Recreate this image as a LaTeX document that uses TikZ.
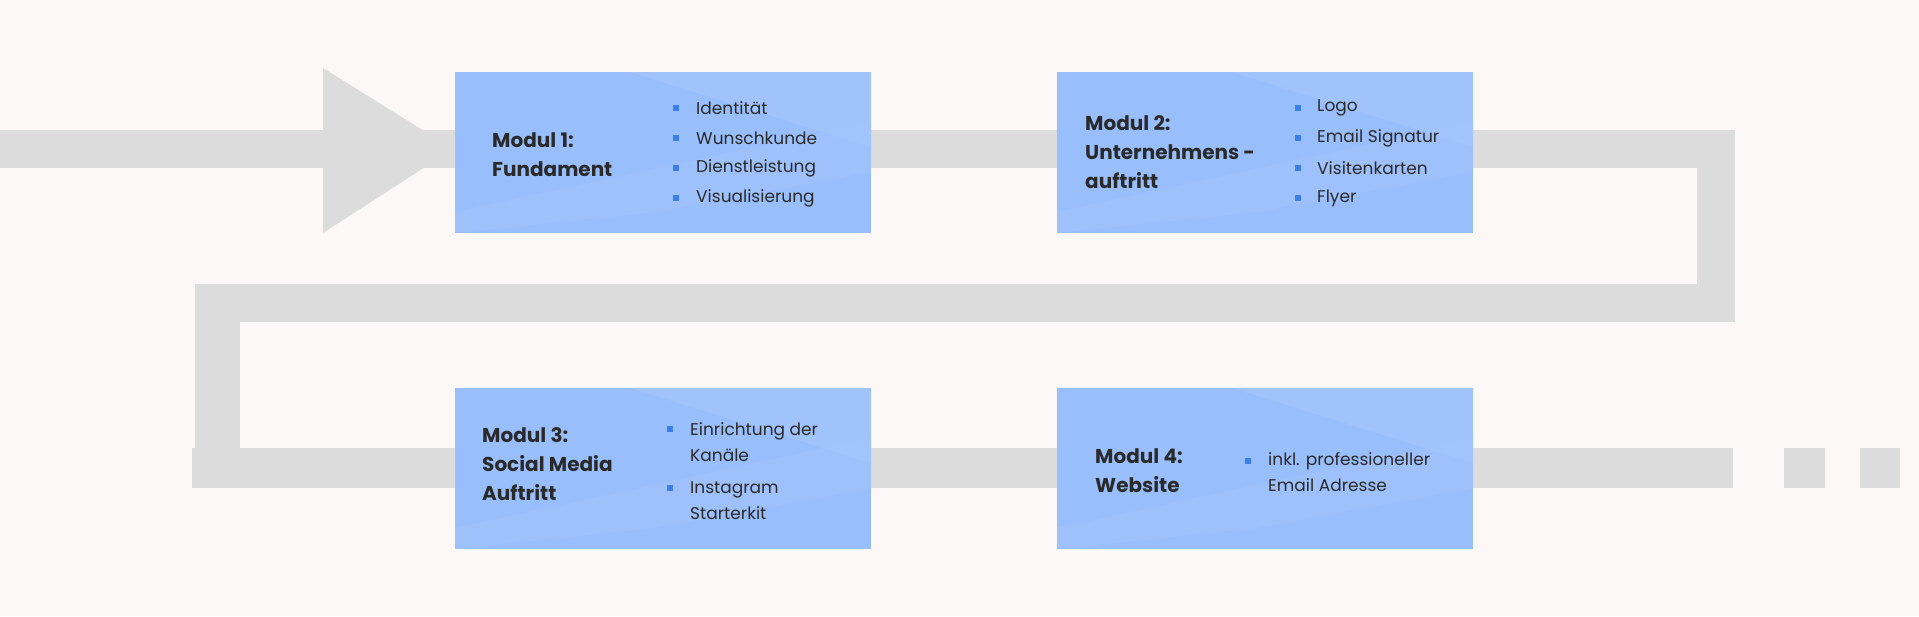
\documentclass[tikz,border=0pt]{standalone}
\usepackage{fontspec}
\setmainfont{Poppins}
\definecolor{bg}{HTML}{FBF8F7}
\definecolor{band}{HTML}{DCDCDC}
\definecolor{boxc}{HTML}{99BEFC}
\definecolor{boxl}{HTML}{A6C7FD}
\definecolor{bul}{HTML}{3D7FE8}
\definecolor{txt}{HTML}{2A2A2A}
\tikzset{
  band/.style={fill=band,draw=none},
  modbox/.style={fill=boxc,draw=none},
  title/.style={anchor=west,align=left,font=\fontsize{20}{29}\selectfont\bfseries,text=txt,inner sep=0},
  item/.style={anchor=west,align=left,font=\fontsize{17}{26}\selectfont,text=txt,inner sep=0},
  bsq/.style={fill=bul,draw=none,minimum size=6pt,inner sep=0}
}
\begin{document}
\begin{tikzpicture}[x=1pt,y=-1pt]
\fill[bg] (0,0) rectangle (1919,616);
\useasboundingbox (0,0) rectangle (1919,616);
% flow band
\fill[band] (0,130) rectangle (1735,168);
\fill[band] (323,68) -- (453,149) -- (323,233) -- cycle;
\fill[band] (1697,130) rectangle (1735,322);
\fill[band] (195,284) rectangle (1735,322);
\fill[band] (195,284) rectangle (240,488);
\fill[band] (192,448) rectangle (1733,488);
\fill[band] (1784,448) rectangle (1825,488);
\fill[band] (1860,448) rectangle (1900,488);
% boxes
\foreach \x/\y/\n in {455/72/a,1057/72/b,455/388/c,1057/388/d}{
  \fill[modbox] (\x,\y) rectangle ++(416,161);
  \fill[boxl,opacity=0.6] (\x+175,\y) -- (\x+416,\y) -- (\x+416,\y+75) -- cycle;
  \fill[boxl,opacity=0.4] (\x,\y+140) -- (\x+416,\y+50) -- (\x+416,\y+100) -- (\x+200,\y+140) -- (\x,\y+161) -- cycle;
  \coordinate (\n) at (\x,\y);
}
% box 1
\node[title] (t1) at (492,155) {Modul 1:\\Fundament};
\foreach \t/\yy in {Identität/108,Wunschkunde/138,Dienstleistung/168,Visualisierung/198}{
  \node[bsq] at (676,\yy) {};
  \node[item] at (696,\yy) {\t};
}
% box 2
\node[title] (t2) at (1085,152) {Modul 2:\\Unternehmens -\\auftritt};
\foreach \t/\yy in {Logo/108,Email Signatur/138,Visitenkarten/168,Flyer/198}{
  \node[bsq] at (1298,\yy) {};
  \node[item] at (1317,\yy) {\t};
}
% box 3
\node[title] (t3) at (482,464) {Modul 3:\\Social Media\\Auftritt};
\node[bsq] at (670,429) {};
\node[item] at (690,442) {Einrichtung der\\Kanäle};
\node[bsq] at (670,488) {};
\node[item] at (690,501) {Instagram\\Starterkit};
% box 4
\node[title] (t4) at (1095,471) {Modul 4:\\Website};
\node[bsq] at (1248,461) {};
\node[item] at (1268,472) {inkl. professioneller\\Email Adresse};
\end{tikzpicture}
\end{document}
